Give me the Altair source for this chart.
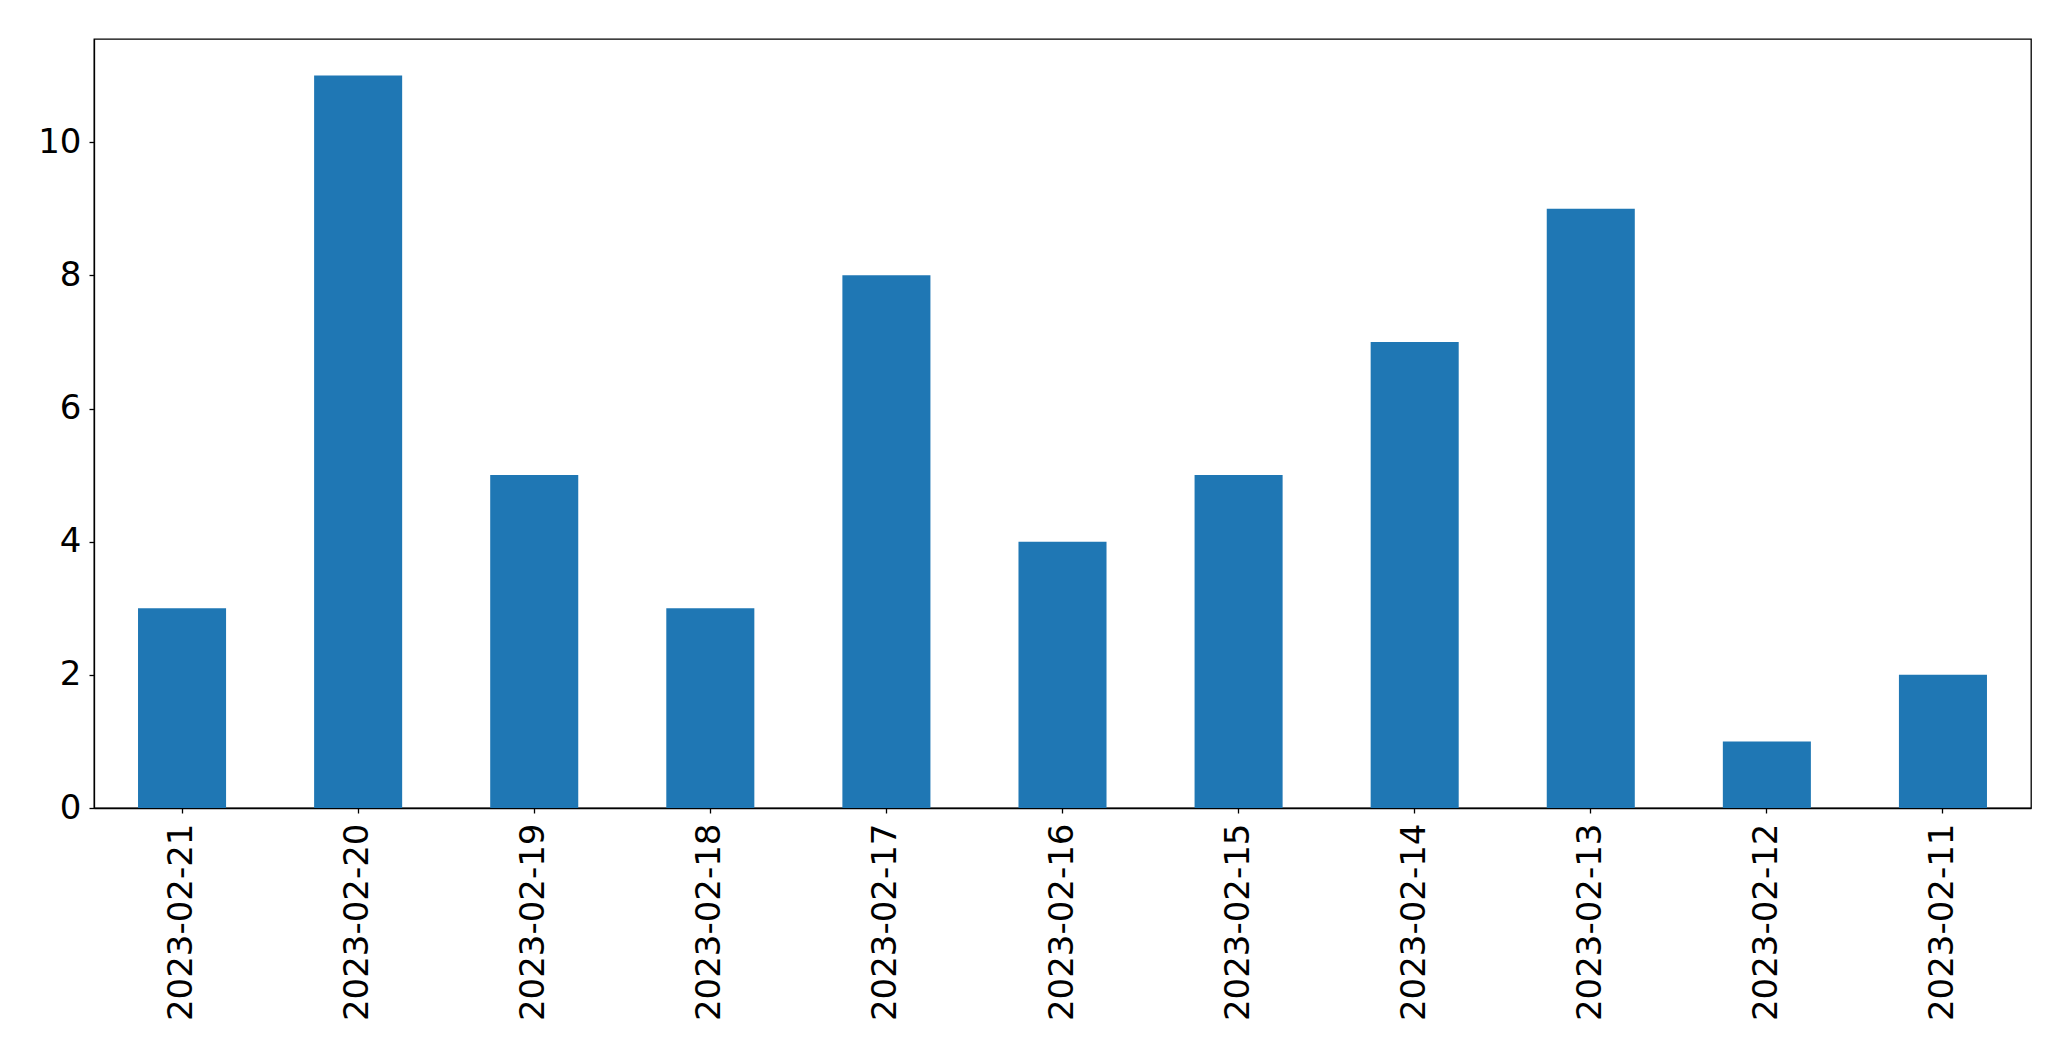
import altair as alt
import pandas as pd

dates = ["2023-02-21", "2023-02-20", "2023-02-19", "2023-02-18", "2023-02-17",
         "2023-02-16", "2023-02-15", "2023-02-14", "2023-02-13", "2023-02-12",
         "2023-02-11"]
counts = [3, 11, 5, 3, 8, 4, 5, 7, 9, 1, 2]
y_ticks = [0, 2, 4, 6, 8, 10]

df = pd.DataFrame({"date": dates, "count": counts})

chart = alt.Chart(df).mark_bar(color="#1f77b4").encode(
    x=alt.X("date:N", sort=dates, title=None,
            scale=alt.Scale(paddingInner=0.5, paddingOuter=0.25),
            axis=alt.Axis(labelAngle=270, labelFontSize=34, labelFont="DejaVu Sans",
                          labelColor="black", tickColor="black", domainColor="black",
                          tickSize=5, tickWidth=1.3, domainWidth=1.3, labelPadding=10,
                          labelLimit=0, grid=False)),
    y=alt.Y("count:Q", title=None,
            scale=alt.Scale(domain=[0, 11.55], nice=False, zero=True),
            axis=alt.Axis(values=y_ticks, labelFontSize=34, labelFont="DejaVu Sans",
                          labelColor="black", tickColor="black", domainColor="black",
                          tickSize=5, tickWidth=1.3, domainWidth=1.3, labelPadding=8,
                          grid=False)),
).properties(
    width=1937,
    height=769,
    background="white",
    autosize=alt.AutoSizeParams(type="none"),
    padding={"left": 86, "top": 31, "right": 30, "bottom": 240},
).configure_view(
    stroke="black", strokeWidth=1.3
)

chart.save("out.html", embed_options={"renderer": "svg", "actions": False})
